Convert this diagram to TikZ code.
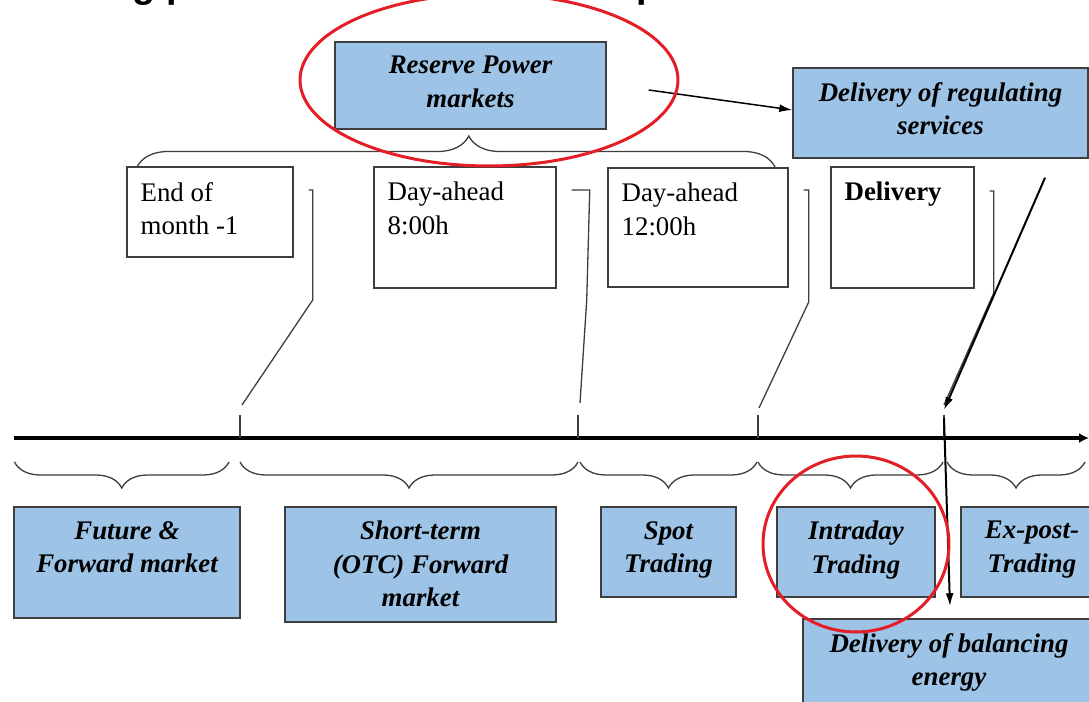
\documentclass[tikz,border=0pt]{standalone}
\usepackage{fontspec}
\setmainfont{Liberation Serif}
\newfontfamily\headfont{Liberation Sans}
\usetikzlibrary{arrows.meta,calc,decorations.pathreplacing}
\definecolor{boxblue}{RGB}{157,195,230}
\definecolor{edgegray}{RGB}{62,62,62}
\definecolor{ringred}{RGB}{228,30,38}
\tikzset{
  market/.style={rectangle, draw=edgegray, line width=0.03cm, fill=boxblue, inner sep=0pt},
  datebox/.style={rectangle, draw=edgegray, line width=0.03cm, fill=white, inner sep=0pt},
  boxtext/.style={font=\fontsize{15.3}{19}\selectfont\bfseries\itshape, align=center, inner sep=0pt, anchor=north},
  datetext/.style={font=\fontsize{15.3}{19}\selectfont, align=left, inner sep=0pt, anchor=north west},
  leader/.style={draw=edgegray, line width=0.026cm},
  tick/.style={draw=edgegray, line width=0.026cm},
  upbrace/.style={draw=edgegray, line width=0.026cm, decorate,
    decoration={brace, amplitude=#1, aspect=0.52}},
  downbrace/.style={draw=edgegray, line width=0.026cm, decorate,
    decoration={brace, mirror, amplitude=#1}},
  ring/.style={draw=ringred, line width=0.06cm},
  flow/.style={draw=black, line width=0.04cm, -{Latex[length=0.26cm,width=0.16cm]}},
}
\begin{document}
\begin{tikzpicture}[x=0.02cm, y=-0.02cm]
\useasboundingbox (0,0) rectangle (1089,702);
\clip (0,0) rectangle (1089,702);

% heading, mostly above the page edge
\node[anchor=base west, inner sep=0pt, font={\headfont\bfseries\fontsize{21.5}{26}\selectfont}]
  (heading) at (19,-2) {Trading process on the wholesale power market};

% reserve power and its delivery
\node[market, minimum width=5.42cm, minimum height=1.74cm] (reserve) at (470.5,85.5) {};
\node[boxtext] (reserve-t) at ($(reserve.north)+(0,14.6)$) {Reserve Power\\markets};
\node[market, minimum width=5.90cm, minimum height=1.80cm] (regul) at (940.5,113) {};
\node[boxtext] (regul-t) at ($(regul.north)+(0,14.6)$) {Delivery of regulating\\services};

% gate times
\node[datebox, minimum width=3.32cm, minimum height=1.80cm] (eom) at (210,212) {};
\node[datetext] (eom-t) at ($(eom.north west)+(14,15.6)$) {End of\\month -1};
\node[datebox, minimum width=3.64cm, minimum height=2.42cm] (da8) at (465,227.5) {};
\node[datetext] (da8-t) at ($(da8.north west)+(14,15.6)$) {Day-ahead\\8:00h};
\node[datebox, minimum width=3.60cm, minimum height=2.38cm] (da12) at (698,227.5) {};
\node[datetext] (da12-t) at ($(da12.north west)+(14,15.6)$) {Day-ahead\\12:00h};
\node[datebox, minimum width=2.86cm, minimum height=2.42cm] (deliv) at (902.5,227.5) {};
\node[datetext] (deliv-t) at ($(deliv.north west)+(14,15.6)$) {\bfseries Delivery};

% brace over the gate times
\draw[upbrace=0.62cm] (137,167) -- (775,167);

% time axis and its marks
\coordinate (axis0) at (14,438);
\coordinate (axis1) at (1089,438);
\coordinate (t1) at (240,438);
\coordinate (t2) at (578,438);
\coordinate (t3) at (758,438);
\coordinate (t4) at (944,438);
\draw[line width=0.07cm, -{Latex[length=0.2cm,width=0.2cm]}] (axis0) -- (axis1);
\foreach \t in {t1,t2,t3,t4} \draw[tick] (\t) -- ++(0,-23);

% leaders from the gate times to the axis
\draw[leader] (eom.east) ++(15,-22) -- ++(4,0) -- ++(0,110) -- ($(t1)+(2,-33)$);
\draw[leader] (da8.east) ++(15,-37.5) -- ++(18,0) -- ++(-3,110) -- ($(t2)+(2,-35)$);
\draw[leader] (da12.east) ++(15,-37.5) -- ++(5,0) -- ++(0,112) -- ($(t3)+(1,-30)$);
\draw[leader] (deliv.east) ++(15,-36.5) -- ++(4,0) -- ++(0,102) -- ($(t4)+(0,-33)$);

% braces under the axis
\draw[downbrace=0.52cm] (14.5,462) -- (229,462);
\draw[downbrace=0.52cm] (240,462) -- (578,462);
\draw[downbrace=0.52cm] (580,462) -- (757,462);
\draw[downbrace=0.52cm] (758,462) -- (943,462);
\draw[downbrace=0.52cm] (947,462) -- (1085,462);

% market segments
\node[market, minimum width=4.52cm, minimum height=2.22cm] (future) at (127,562.5) {};
\node[boxtext] (future-t) at ($(future.north)+(0,14.6)$) {Future \&\\Forward market};
\node[market, minimum width=5.42cm, minimum height=2.30cm] (short) at (420.5,564.5) {};
\node[boxtext] (short-t) at ($(short.north)+(0,14.6)$) {Short-term\\(OTC) Forward\\market};
\node[market, minimum width=2.70cm, minimum height=1.80cm] (spot) at (668.5,552) {};
\node[boxtext] (spot-t) at ($(spot.north)+(0,14.6)$) {Spot\\Trading};
\node[market, minimum width=3.16cm, minimum height=1.80cm] (intra) at (856,552) {};
\node[boxtext] (intra-t) at ($(intra.north)+(0,14.6)$) {Intraday\\Trading};
\node[market, minimum width=2.84cm, minimum height=1.80cm] (expost) at (1032,552) {};
\node[boxtext] (expost-t) at ($(expost.north)+(0,14.6)$) {Ex-post-\\Trading};
\node[market, minimum width=5.84cm, minimum height=1.72cm] (bal) at (949,662) {};
\node[boxtext] (bal-t) at ($(bal.north)+(0,14.6)$) {Delivery of balancing\\energy};

% flows
\draw[flow, line width=0.03cm] ($(reserve.east)+(42,4.5)$) -- ($(regul.west)+(0,-3)$);
\draw[flow] ($(regul.south)+(104.5,19)$) -- ($(t4)+(0,-28)$);
\draw[flow] ($(t4)+(0,-20)$) -- ($(bal.north)+(1,-12)$);

% highlight rings
\draw[ring] (489,80) ellipse [x radius=3.78cm, y radius=1.72cm];
\draw[ring] (856,544) ellipse [x radius=1.86cm, y radius=1.76cm];
\end{tikzpicture}
\end{document}
